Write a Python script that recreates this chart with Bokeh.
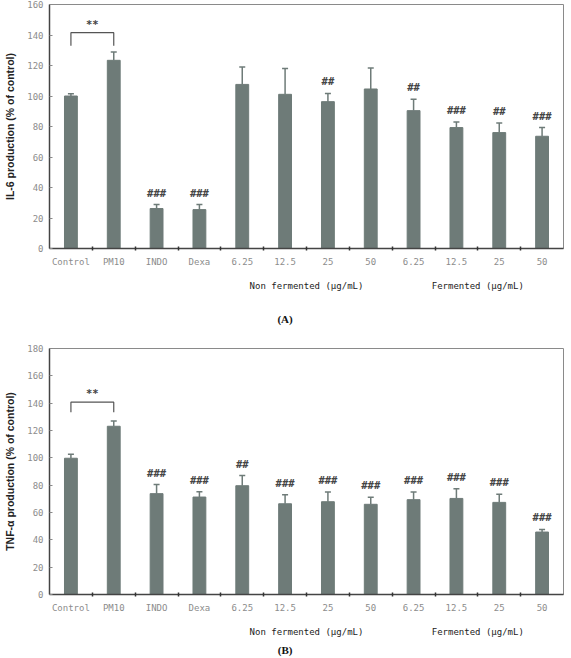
from bokeh.plotting import figure
from bokeh.models import (Range1d, FixedTicker, LinearAxis, Whisker, TeeHead,
                          ColumnDataSource)
from bokeh.layouts import column
from bokeh.embed import file_html
from bokeh.resources import INLINE
from bokeh.core.properties import value

# Treatment groups along the x axis
categories = ["Control", "PM10", "INDO", "Dexa",
              "6.25", "12.5", "25", "50",
              "6.25", "12.5", "25", "50"]
group_names = ["Non fermented (\u03bcg/mL)", "Fermented (\u03bcg/mL)"]
group_members = [(4, 7), (8, 11)]  # first/last category index of each group

# (A) IL-6 production, % of control (mean, SD)
il6_mean = [100.0, 123.4, 26.2, 25.5, 107.6, 101.1, 96.3, 104.6, 90.4, 79.3, 76.0, 73.6]
il6_sd = [1.5, 5.4, 2.6, 3.3, 11.4, 17.0, 5.4, 13.7, 7.4, 3.7, 6.3, 5.7]
il6_marks = ["", "", "###", "###", "", "", "##", "", "##", "###", "##", "###"]

# (B) TNF-alpha production, % of control (mean, SD)
tnf_mean = [99.7, 123.1, 73.8, 71.3, 79.6, 66.4, 67.9, 66.0, 69.4, 70.3, 67.4, 45.7]
tnf_sd = [2.9, 3.9, 6.6, 3.9, 7.4, 6.6, 7.1, 5.1, 5.6, 7.1, 5.9, 1.9]
tnf_marks = ["", "", "###", "###", "##", "###", "###", "###", "###", "###", "###", "###"]

# Control vs PM10 significance bracket: (leg bottom, bar top)
il6_bracket = (133.0, 141.5)
tnf_bracket = (133.4, 140.7)

BAR = "#6e7b78"
MONO = "DejaVu Sans Mono"


def panel(means, sds, marks, bracket, ymax, ylabel, tag, height, top, bottom, tag_gap):
    xs = list(range(1, len(categories) + 1))
    p = figure(width=571, height=height, output_backend="svg", toolbar_location=None,
               x_range=Range1d(0.5, len(categories) + 0.5), y_range=Range1d(0, ymax),
               min_border_left=49, min_border_right=8,
               min_border_top=top, min_border_bottom=bottom)
    p.xgrid.visible = False
    p.ygrid.visible = False
    p.outline_line_color = "#8a8a8a"
    p.outline_line_width = 1
    p.background_fill_color = "white"
    p.border_fill_color = "white"

    src = ColumnDataSource(dict(x=xs, top=means,
                                upper=[m + s for m, s in zip(means, sds)],
                                mark=marks))
    p.vbar(x="x", top="top", width=0.3, bottom=0, source=src,
           fill_color=BAR, line_color=BAR)
    p.add_layout(Whisker(source=src, base="x", lower="top", upper="upper",
                         line_color=BAR, line_width=1.5, lower_head=None,
                         upper_head=TeeHead(size=6, line_color=BAR, line_width=1.5)))
    p.text(x="x", y="upper", text="mark", source=src, text_align="center",
           text_baseline="bottom", y_offset=-6, text_font=value(MONO),
           text_font_size="10.5px", text_font_style="bold", text_color="#444444")

    # significance bracket between Control and PM10
    lo, hi = bracket
    p.line(x=[1, 1, 2, 2], y=[lo, hi, hi, lo], line_color="#555555", line_width=1.2)
    p.text(x=[1.5], y=[hi], text=["**"], text_align="center", text_baseline="bottom",
           y_offset=-3, text_font=value(MONO), text_font_size="10.5px",
           text_font_style="bold", text_color="#444444")

    # y axis
    yax = p.yaxis[0]
    yax.ticker = FixedTicker(ticks=list(range(0, ymax + 1, 20)))
    yax.axis_label = ylabel
    yax.axis_label_text_font = "Liberation Sans"
    yax.axis_label_text_font_style = "bold"
    yax.axis_label_text_font_size = "10.5px"
    yax.axis_label_text_color = "#222222"
    yax.axis_label_standoff = 8
    yax.major_label_text_font = MONO
    yax.major_label_text_font_size = "9px"
    yax.major_label_text_color = "#8c8c8c"
    yax.major_label_standoff = 6
    yax.major_tick_in = 3
    yax.major_tick_out = 0
    yax.major_tick_line_color = "#888888"
    yax.minor_tick_line_color = None
    yax.axis_line_color = "#444444"
    yax.axis_line_width = 1.5

    # x axis: category names at bar centres, ticks at category boundaries
    xax = p.xaxis[0]
    xax.ticker = FixedTicker(ticks=xs, minor_ticks=[i + 0.5 for i in xs[:-1]])
    xax.major_label_overrides = {i: c for i, c in zip(xs, categories)}
    xax.major_label_text_font = MONO
    xax.major_label_text_font_size = "9px"
    xax.major_label_text_color = "#8c8c8c"
    xax.major_label_standoff = 2
    xax.major_tick_line_color = None
    xax.minor_tick_in = 2
    xax.minor_tick_out = 2
    xax.minor_tick_line_color = "#333333"
    xax.minor_tick_line_width = 1.5
    xax.axis_line_color = "#444444"
    xax.axis_line_width = 1.5

    # group captions beneath the concentration labels
    centers = [(xs[a] + xs[b]) / 2 for a, b in group_members]
    gax = LinearAxis(ticker=FixedTicker(ticks=centers),
                     major_label_overrides={c: n for c, n in zip(centers, group_names)})
    gax.axis_line_color = None
    gax.major_tick_line_color = None
    gax.minor_tick_line_color = None
    gax.major_label_text_font = MONO
    gax.major_label_text_font_size = "9px"
    gax.major_label_text_color = "#222222"
    gax.major_label_standoff = 5
    p.add_layout(gax, "below")

    # panel tag, e.g. "(A)", under the group captions
    tax = LinearAxis(ticker=FixedTicker(ticks=[6.0]),
                     major_label_overrides={6.0: tag})
    tax.axis_line_color = None
    tax.major_tick_line_color = None
    tax.minor_tick_line_color = None
    tax.major_label_text_font = "Liberation Serif"
    tax.major_label_text_font_style = "bold"
    tax.major_label_text_font_size = "11px"
    tax.major_label_text_color = "#111111"
    tax.major_label_standoff = tag_gap
    p.add_layout(tax, "below")
    return p


top_panel = panel(il6_mean, il6_sd, il6_marks, il6_bracket, 160,
                  "IL-6 production (% of control)", "(A)", 330, 4, 82, 13)
bottom_panel = panel(tnf_mean, tnf_sd, tnf_marks, tnf_bracket, 180,
                     "TNF-\u03b1 production (% of control)", "(B)", 328, 18, 64, -2)

layout = column(top_panel, bottom_panel, spacing=0)
open("out.html", "w").write(file_html(layout, INLINE))
